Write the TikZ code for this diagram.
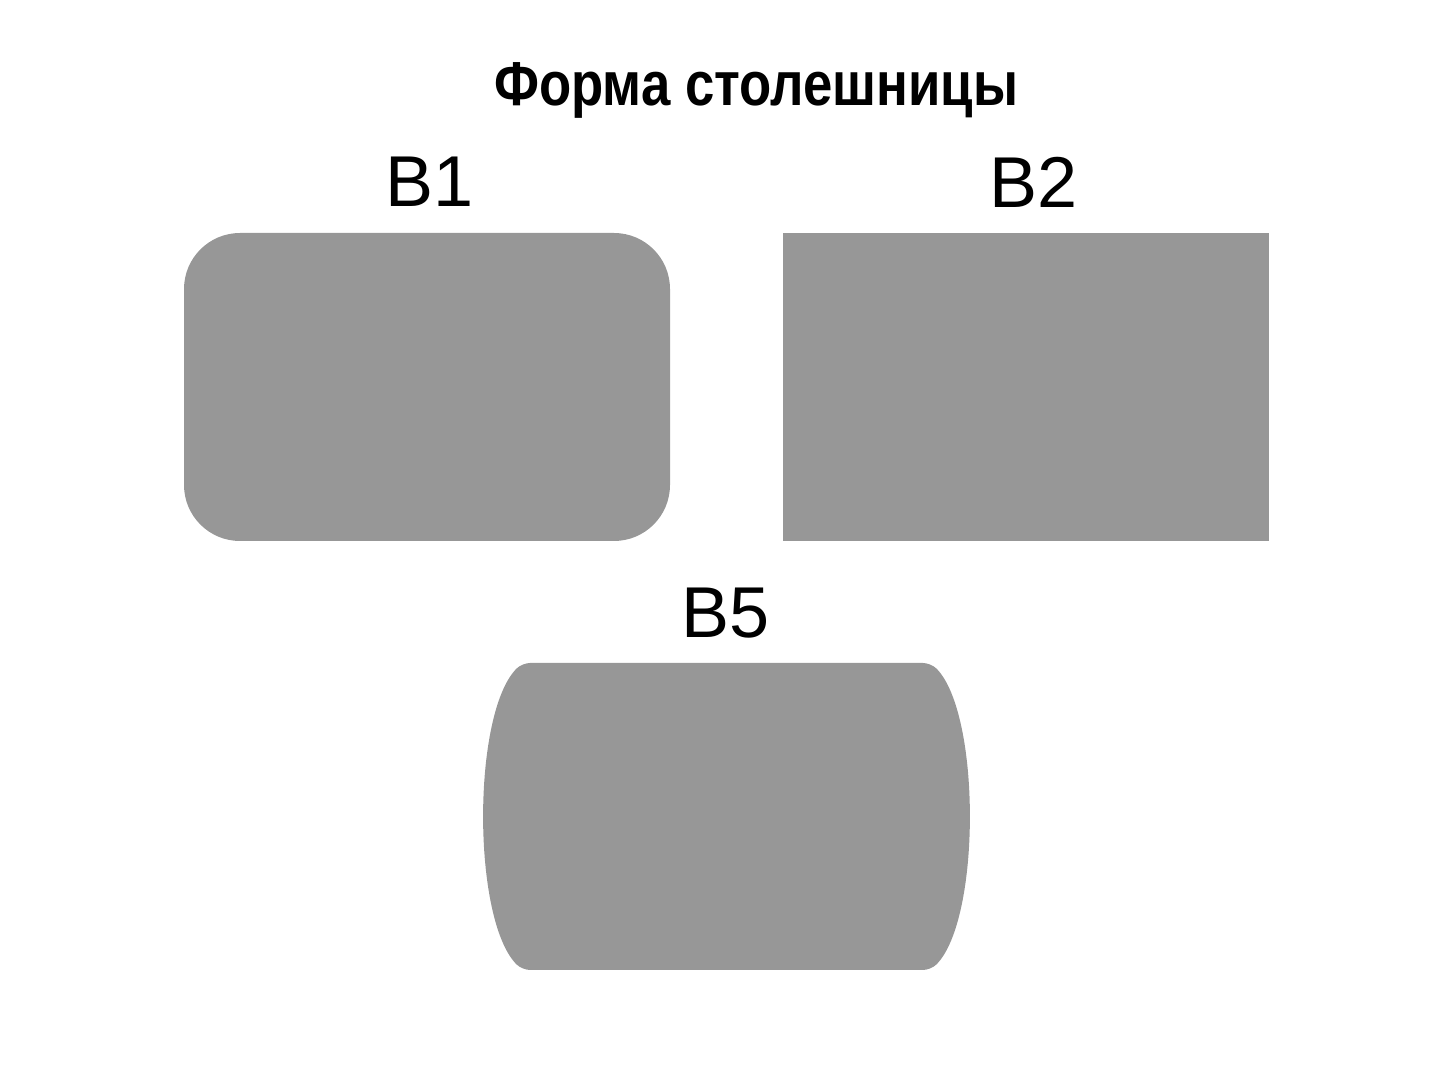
\documentclass[tikz,border=0pt]{standalone}
\usepackage{fontspec}
\setmainfont{Liberation Sans}
\newfontfamily\headfont{Liberation Sans}[FakeStretch=0.85]
\usepackage{tikz}
\usetikzlibrary{positioning}
\definecolor{topgray}{RGB}{151,151,151}

\begin{document}
\begin{tikzpicture}[x=0.5pt,y=-0.5pt]

\tikzset{title/.style={font=\headfont\bfseries\fontsize{31}{36}\selectfont},
         variant/.style={font=\fontsize{36}{42}\selectfont},
         top/.style={fill=topgray,draw=none}}

\useasboundingbox (0,0) rectangle (1453,1079);

\node[title] (heading) at (756,90) {Форма столешницы};

% B1
\node[variant] (b1) at (430,182) {B1};
\fill[top,rounded corners=28pt] (184,233) rectangle (670,541);

% B2
\node[variant] (b2) at (1034,182) {B2};
\fill[top] (783,233) rectangle (1269,541);

% B5
\node[variant] (b5) at (726,613) {B5};
\fill[top,rounded corners=4pt] (726,663) -- (931,663)
    .. controls (981,714) and (981,919) .. (931,970)
    -- (522,970)
    .. controls (472,919) and (472,714) .. (522,663) -- cycle;

\end{tikzpicture}
\end{document}
